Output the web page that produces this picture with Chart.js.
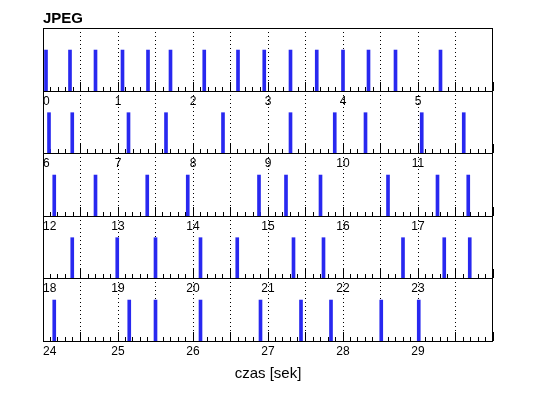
<!DOCTYPE html>
<html>
<head>
<meta charset="utf-8">
<script src="https://cdn.jsdelivr.net/npm/chart.js@4.4.0/dist/chart.umd.min.js"></script>
<style>
    body { margin: 0; background: #fff; }
    #wrap { position: relative; width: 538px; height: 398px; }
    #wrap canvas { position: absolute; left: 0; }
</style>
</head>
<body>
<div id="wrap"></div>
<script>
// pulse times in seconds
const pulseTimes = [
    0.04, 0.36, 0.70, 1.06, 1.40, 1.70, 2.15, 2.60, 2.95, 3.30, 3.65, 4.00, 4.34, 4.70, 5.30,
    6.08, 6.39, 7.14, 7.64, 8.40, 9.30, 9.89, 10.30, 11.05, 11.61,
    12.15, 12.70, 13.39, 13.93, 14.88, 15.24, 15.70, 16.60, 17.26, 17.67,
    18.39, 18.99, 19.50, 20.10, 20.59, 21.34, 21.74, 22.80, 23.35, 23.69,
    24.15, 25.15, 25.50, 26.10, 26.90, 27.44, 27.84, 28.51, 29.01
];
const pulseLevel = 0.65;
const rowStarts = [0, 6, 12, 18, 24];
const rowSpan = 6;
const chartTitle = "JPEG";
const axisTitle = "czas [sek]";

Chart.defaults.font.family = "'Liberation Sans', Arial, sans-serif";
Chart.defaults.color = "#000";

const boxBorder = {
    id: "boxBorder",
    afterDraw(chart) {
        const a = chart.chartArea;
        const ctx = chart.ctx;
        ctx.save();
        ctx.strokeStyle = "#000";
        ctx.lineWidth = 1;
        ctx.strokeRect(Math.round(a.left) + 0.5, Math.round(a.top) + 0.5,
            Math.round(a.right - a.left) - 1, Math.round(a.bottom - a.top));
        ctx.restore();
    },
};

document.addEventListener("DOMContentLoaded", function () {
    rowStarts.forEach((start, i) => createRow(start, i));
});

function createRow(start, i) {
    const first = i === 0;
    const last = i === rowStarts.length - 1;
    const top = Math.round(28 + i * 62.6);
    const bottom = Math.round(28 + (i + 1) * 62.6);
    const axisHeight = last ? 46 : 20;

    const canvas = document.createElement("canvas");
    canvas.width = 538;
    canvas.height = 22 + (bottom - top) + axisHeight;
    canvas.style.top = (top - 22) + "px";
    document.getElementById("wrap").appendChild(canvas);

    const points = pulseTimes
        .filter((t) => t >= start && t < start + rowSpan)
        .map((t) => ({ x: t, y: pulseLevel }));

    const config = {
        type: "bar",
        data: {
            datasets: [
                {
                    data: points,
                    backgroundColor: "#2828f0",
                    borderWidth: 0,
                    barThickness: 3,
                },
            ],
        },
        options: {
            responsive: false,
            animation: false,
            layout: { padding: { left: 43, right: 45, top: first ? 2 : 22, bottom: 0 } },
            plugins: {
                legend: { display: false },
                tooltip: { enabled: false },
                title: {
                    display: first,
                    text: chartTitle,
                    align: "start",
                    font: { size: 15, weight: "bold" },
                    padding: { top: 2, bottom: 0 },
                },
            },
            scales: {
                x: {
                    type: "linear",
                    min: start,
                    max: start + rowSpan,
                    offset: false,
                    grid: { offset: false, drawOnChartArea: false, tickLength: -4, tickColor: "#000" },
                    border: { display: false },
                    ticks: {
                        stepSize: 0.1,
                        autoSkip: false,
                        maxRotation: 0,
                        minRotation: 0,
                        align: "inner",
                        padding: 7,
                        font: { size: 12 },
                        callback: (v) => (Number.isInteger(v) && v < start + rowSpan ? String(v) : ""),
                    },
                    title: { display: last, text: axisTitle, font: { size: 15 } },
                    afterFit: (s) => { s.height = axisHeight; },
                },
                x2: {
                    type: "linear",
                    axis: "x",
                    position: "bottom",
                    weight: -1,
                    min: start,
                    max: start + rowSpan,
                    offset: false,
                    grid: {
                        offset: false,
                        tickLength: -9,
                        tickColor: "#000",
                        color: (c) => (c.index === 0 || c.index === c.scale.ticks.length - 1 ? "rgba(0,0,0,0)" : "#000"),
                    },
                    border: { display: false, dash: [1, 3] },
                    ticks: { display: false, stepSize: 0.5 },
                    afterFit: (s) => { s.height = 0; },
                },
                y: { display: false, min: 0, max: 1 },
            },
        },
        plugins: [boxBorder],
    };
    new Chart(canvas, config);
}
</script>
</body>
</html>
